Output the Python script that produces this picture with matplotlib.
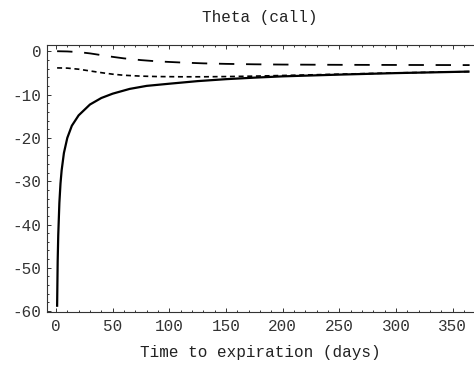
import matplotlib
matplotlib.use("Agg", force=True)
import matplotlib.pyplot as plt
from matplotlib.ticker import MultipleLocator

# time to expiration (days) and call theta for three moneyness levels
t_atm = [1, 1.5, 2, 3, 4, 5, 7, 10, 14, 20, 30, 40, 50, 65, 80, 100, 125, 150, 175, 200, 250, 300, 365]
theta_atm = [-59.0, -48.5, -42.5, -35.0, -30.5, -27.5, -23.5, -20.0, -17.2, -14.8, -12.3, -10.8,
             -9.8, -8.7, -8.0, -7.5, -6.9, -6.45, -6.1, -5.8, -5.4, -5.05, -4.7]

t_side = [1, 10, 20, 30, 40, 50, 60, 75, 90, 110, 130, 150, 175, 200, 250, 300, 365]
theta_otm = [0.0, -0.05, -0.2, -0.5, -0.9, -1.3, -1.65, -2.05, -2.35, -2.6, -2.8, -2.92,
             -3.02, -3.08, -3.14, -3.17, -3.2]
theta_itm = [-3.85, -3.9, -4.15, -4.55, -4.95, -5.3, -5.55, -5.75, -5.85, -5.9, -5.9, -5.85,
             -5.75, -5.6, -5.3, -5.0, -4.7]

plt.rcParams["font.family"] = ["Liberation Mono", "DejaVu Sans Mono"]
plt.rcParams["axes.unicode_minus"] = False

fig = plt.figure(figsize=(4.74, 3.66), dpi=100)
ax = fig.add_axes([0.0992, 0.1475, 0.8987, 0.7303])

ax.plot(t_atm, theta_atm, color="black", lw=1.6, solid_capstyle="butt")
ax.plot(t_side, theta_otm, color="black", lw=1.3, dashes=(8.5, 6.5))
ax.plot(t_side, theta_itm, color="black", lw=1.2, dashes=(3.0, 2.2))

ax.set_xlim(-7.9, 368)
ax.set_ylim(-60.2, 1.5)
ax.xaxis.set_major_locator(MultipleLocator(50))
ax.xaxis.set_minor_locator(MultipleLocator(10))
ax.yaxis.set_major_locator(MultipleLocator(10))
ax.yaxis.set_minor_locator(MultipleLocator(2))

ax.spines["right"].set_visible(False)
for side in ("left", "bottom", "top"):
    ax.spines[side].set_linewidth(0.8)
    ax.spines[side].set_color("#333333")

ax.tick_params(which="both", direction="in", top=True, right=False,
               labeltop=False, colors="#333333", width=0.7)
ax.tick_params(which="major", length=3.2, labelsize=11.5, pad=4)
ax.tick_params(which="minor", length=1.6)
ax.tick_params(axis="x", which="major", pad=5)

fig.text(260 / 474, 1 - 17.3 / 366, "Theta (call)", ha="center", va="center",
         fontsize=11.5, color="#222222")
fig.text(260 / 474, 1 - 353 / 366, "Time to expiration (days)", ha="center",
         va="center", fontsize=11.5, color="#222222")

fig.savefig("out.png", dpi=100)
plt.close(fig)
